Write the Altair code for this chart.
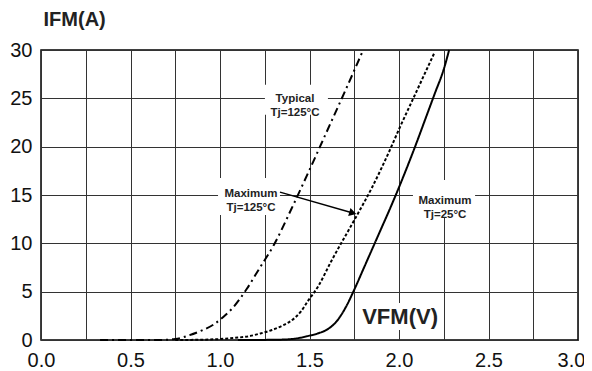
import altair as alt
import pandas as pd

# ---- axis grid / tick values ----
x_ticks = [0.0, 0.25, 0.5, 0.75, 1.0, 1.25, 1.5, 1.75, 2.0, 2.25, 2.5, 2.75, 3.0]
y_ticks = [0, 2.5, 5, 7.5, 10, 12.5, 15, 17.5, 20, 22.5, 25, 27.5, 30]

# ---- curves ----
typ_x = [0.33, 0.5, 0.65, 0.75, 0.83, 0.9, 0.96, 1.02, 1.07, 1.15, 1.22, 1.3, 1.4, 1.5, 1.6, 1.7, 1.8]
typ_y = [0, 0, 0, 0.1, 0.5, 1.0, 1.55, 2.4, 3.3, 5.3, 7.4, 9.8, 13.6, 17.6, 21.7, 25.8, 30]

m125_x = [0.75, 0.9, 1.0, 1.1, 1.15, 1.22, 1.29, 1.35, 1.39, 1.45, 1.49, 1.55, 1.62, 1.75, 1.85, 1.95, 2.0, 2.1, 2.2]
m125_y = [0, 0.03, 0.1, 0.25, 0.35, 0.65, 1.03, 1.5, 1.9, 2.9, 4.0, 5.6, 8.1, 12.4, 15.8, 19.7, 21.8, 25.8, 29.8]

m25_x = [1.1, 1.3, 1.4, 1.5, 1.55, 1.6, 1.65, 1.7, 1.75, 1.8, 1.85, 1.9, 1.95, 2.0, 2.05, 2.1, 2.15, 2.2, 2.25, 2.28]
m25_y = [0, 0.02, 0.1, 0.45, 0.7, 1.1, 1.9, 3.3, 5.2, 7.3, 9.4, 11.5, 13.6, 15.8, 18.1, 20.5, 23.0, 25.5, 28.0, 30]

series_names = ["Typical Tj=125°C", "Maximum Tj=125°C", "Maximum Tj=25°C"]

# ---- annotations (last one is the y-axis title above the plot) ----
ann_text = ["Typical\nTj=125°C", "Maximum\nTj=125°C", "Maximum\nTj=25°C", "VFM(V)", "IFM(A)"]
ann_x = [1.419, 1.173, 2.257, 2.006, 0.188]
ann_y = [24.93, 15.1, 14.43, 2.38, 33.1]
ann_fs = [11.5, 11.5, 11.5, 22, 20]

# white boxes behind the in-plot labels
box_x0 = [1.251, 0.989, 2.078, 1.754]
box_x1 = [1.603, 1.335, 2.425, 2.240]
box_y0 = [23.3, 12.93, 12.62, 1.03]
box_y1 = [26.4, 16.76, 16.55, 3.83]

arrow_x = [1.335]
arrow_y = [15.3]
arrow_x2 = [1.742]
arrow_y2 = [13.14]

FONT = "Liberation Sans"

rows = []
for name, xs, ys in zip(series_names, [typ_x, m125_x, m25_x], [typ_y, m125_y, m25_y]):
    for a, b in zip(xs, ys):
        rows.append({"series": name, "x": a, "y": b})
curves_df = pd.DataFrame(rows)

ann_df = pd.DataFrame({"text": ann_text, "x": ann_x, "y": ann_y, "fs": ann_fs})
box_df = pd.DataFrame({"x0": box_x0, "x1": box_x1, "y0": box_y0, "y1": box_y1})
arrow_df = pd.DataFrame({"x": arrow_x, "y": arrow_y, "x2": arrow_x2, "y2": arrow_y2})

xscale = alt.Scale(domain=[0, 3], nice=False, zero=False)
yscale = alt.Scale(domain=[0, 30], nice=False, zero=False)

x_axis = alt.Axis(values=x_ticks, grid=True, gridColor="#333", gridWidth=1, gridOpacity=1,
                  ticks=False, domain=False, labelFlush=False, labelOverlap=False,
                  labelExpr="(datum.value*2) % 1 == 0 ? format(datum.value, '.1f') : ''",
                  labelOffset={"condition": {"test": "datum.value == 3", "value": -7}, "value": 0},
                  labelPadding=10, labelFontSize=20, labelFont=FONT, labelColor="#111", title=None)
y_axis = alt.Axis(values=y_ticks, grid=True, gridColor="#333", gridWidth=1, gridOpacity=1,
                  ticks=False, domain=False, labelFlush=False, labelOverlap=False,
                  labelExpr="datum.value % 5 == 0 ? format(datum.value, 'd') : ''",
                  labelPadding=9, labelFontSize=20, labelFont=FONT, labelColor="#111", title=None)

curves = alt.Chart(curves_df).mark_line(strokeWidth=2, interpolate="monotone", color="black").encode(
    x=alt.X("x:Q", scale=xscale, axis=x_axis),
    y=alt.Y("y:Q", scale=yscale, axis=y_axis),
    strokeDash=alt.StrokeDash("series:N", scale=alt.Scale(domain=series_names,
                              range=[[8, 4, 2, 4], [3, 2], [1, 0]]), legend=None),
    detail="series:N",
)

boxes = alt.Chart(box_df).mark_rect(fill="white").encode(
    x="x0:Q", x2="x1:Q", y="y0:Q", y2="y1:Q")

texts = alt.Chart(ann_df).mark_text(font=FONT, fontWeight="bold", color="#222",
                                     lineBreak="\n", lineHeight=14, align="center",
                                     baseline="middle").encode(
    x="x:Q", y="y:Q", text="text:N", size=alt.Size("fs:Q", scale=None, legend=None))

arrow_line = alt.Chart(arrow_df).mark_rule(color="black", strokeWidth=1.5).encode(
    x="x:Q", y="y:Q", x2="x2:Q", y2="y2:Q")
arrow_head = alt.Chart(arrow_df).mark_point(shape="triangle-right", filled=True, size=70,
                                             angle=16, color="black", opacity=1).encode(
    x="x2:Q", y="y2:Q")

chart = alt.layer(boxes, curves, texts, arrow_line, arrow_head).properties(
    width=537, height=290,
    padding={"left": 33, "top": 42, "right": 6, "bottom": 31},
    autosize=alt.AutoSizeParams(type="none"),
).configure_view(stroke="black", strokeWidth=1.5)

chart.save("out.html", embed_options={"renderer": "svg", "actions": False})
